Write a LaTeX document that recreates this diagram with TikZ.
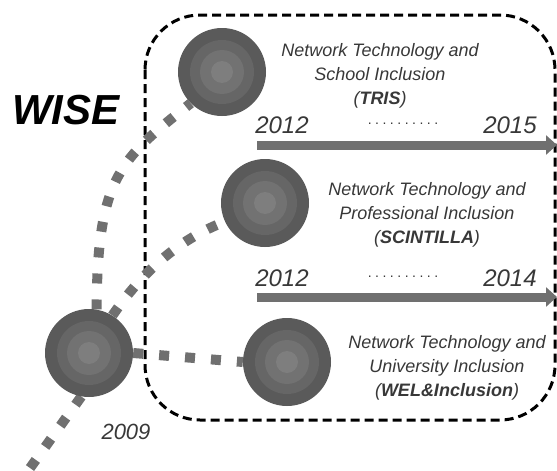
\documentclass[tikz,border=0pt]{standalone}
\usepackage{fontspec}
\setmainfont{Liberation Sans}
\usetikzlibrary{arrows.meta, backgrounds}

\definecolor{ringA}{HTML}{5A5A5A}
\definecolor{ringB}{HTML}{666666}
\definecolor{ringC}{HTML}{727272}
\definecolor{ringD}{HTML}{7E7E7E}
\definecolor{trailgray}{HTML}{707070}
\definecolor{txtgray}{HTML}{383838}

\begin{document}
\begin{tikzpicture}[x=1pt, y=-1pt,
    bubble/.style={circle, minimum size=88pt, inner sep=0pt, fill=ringA,
      path picture={
        \fill[ringB] (path picture bounding box.center) circle (32pt);
        \fill[ringC] (path picture bounding box.center) circle (22pt);
        \fill[ringD] (path picture bounding box.center) circle (11pt);}},
    trail/.style={draw=trailgray, line width=10pt, dash pattern=on 10pt off 16pt},
    timeline/.style={draw=trailgray, line width=9pt, -{Triangle[length=11pt, width=19pt]}},
    project/.style={align=center, text=txtgray, font=\fontsize{18}{24}\selectfont\itshape},
    year/.style={text=txtgray, font=\fontsize{24}{24}\selectfont\itshape},
    gap/.style={text=txtgray, font=\fontsize{14}{14}\selectfont\addfontfeature{LetterSpace=25}}]

        \useasboundingbox (0,0) rectangle (557,471);

        % projects
        \node[bubble] (start) at (89,353) {};
        \node[bubble] (tris) at (222,72) {};
        \node[bubble] (scintilla) at (265,203) {};
        \node[bubble] (wel) at (287,362) {};
        \coordinate (src) at (20,482);

        \node[font=\fontsize{42}{42}\selectfont\bfseries\itshape] (wise) at (66,110) {WISE};
        \node[year, font=\fontsize{22}{22}\selectfont\itshape] (y0) at (126,432) {2009};

        \node[project] (trisText) at (380,76) {Network Technology and\\School Inclusion\\(\textbf{TRIS})};
        \node[project] (scintillaText) at (427,215) {Network Technology and\\Professional Inclusion\\(\textbf{SCINTILLA})};
        \node[project] (welText) at (447,368) {Network Technology and\\University Inclusion\\(\textbf{WEL\&Inclusion})};

        % timelines
        \coordinate (t1s) at (257,145);
        \coordinate (t1e) at (557,145);
        \coordinate (t2s) at (257,297);
        \coordinate (t2e) at (557,297);
        \draw[timeline] (t1s) -- (t1e);
        \draw[timeline] (t2s) -- (t2e);

        \node[year] (y1a) at (282,125) {2012};
        \node[year] (y1b) at (510,125) {2015};
        \node[gap] (d1) at (403,124) {..........};
        \node[year] (y2a) at (282,278) {2012};
        \node[year] (y2b) at (510,278) {2014};
        \node[gap] (d2) at (403,277) {..........};

        \begin{scope}[on background layer]
            \draw[line width=3pt, dash pattern=on 9pt off 5pt, rounded corners=55pt]
                (145,15) rectangle (555,420);
            \draw[trail] (start.260) -- (src);
            \draw[trail] (start.80) .. controls (97,175) and (122,158) .. (tris.225);
            \draw[trail] (start.58) .. controls (145,268) and (182,238) .. (scintilla.205);
            \draw[trail] (start.east) -- (wel.west);
        \end{scope}
\end{tikzpicture}
\end{document}
